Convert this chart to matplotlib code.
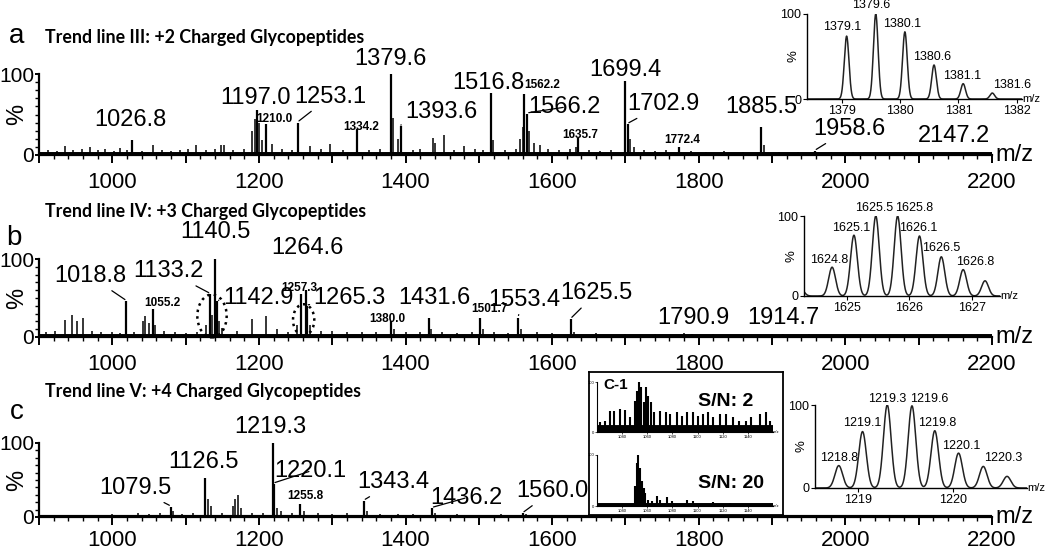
import numpy as np
import matplotlib.pyplot as plt
from matplotlib.patches import Ellipse
from matplotlib.ticker import MultipleLocator, FixedLocator, FuncFormatter

plt.rcParams['font.family'] = ['Liberation Sans', 'DejaVu Sans']

# ---------------- panel a : +2 charged ----------------
a_mz = [1026.8, 1197.0, 1210.0, 1253.1, 1334.2, 1379.6, 1393.6, 1516.8, 1562.2,
        1566.2, 1635.7, 1699.4, 1702.9, 1772.4, 1885.5, 1958.6, 2147.2]
a_int = [19, 55, 38, 40, 32, 100, 36, 76, 75, 51, 21, 91, 38, 10, 35, 5, 3]
a_minor_mz = [912, 925, 935, 947, 958, 970, 980, 990, 1002, 1011, 1020, 1040, 1056,
              1068, 1080, 1092, 1103, 1114, 1128, 1140, 1148, 1153, 1165, 1180, 1190,
              1194, 1200, 1204, 1218, 1232, 1245, 1269, 1285, 1297, 1315, 1350, 1365,
              1383, 1390, 1410, 1420, 1437, 1440, 1452, 1466, 1480, 1495, 1505, 1519,
              1535, 1550, 1556, 1560, 1568, 1575, 1583, 1595, 1610, 1625, 1632, 1650,
              1665, 1680, 1706, 1712, 1725, 1740, 1755, 1790, 1810, 1835, 1860, 1889,
              1910, 1935, 1980, 2010, 2050, 2090, 2120, 2170]
a_minor_int = [6, 5, 11, 6, 7, 10, 6, 8, 5, 9, 6, 5, 12, 6, 5, 6, 7, 12, 6, 7, 12, 12,
               6, 7, 30, 45, 40, 18, 14, 7, 6, 11, 7, 14, 6, 6, 7, 46, 20, 6, 8, 21,
               15, 25, 6, 11, 7, 6, 18, 6, 7, 20, 35, 30, 15, 12, 8, 6, 7, 10, 6, 5,
               6, 20, 10, 6, 5, 6, 5, 4, 5, 4, 12, 4, 4, 4, 4, 3, 4, 3, 3]
a_lab_x = [1025, 1196, 1221, 1297, 1339, 1379, 1449, 1513, 1587, 1617, 1638, 1700,
           1752, 1778, 1885, 2005, 2148]
a_lab_y = [43, 70, 44, 72, 34, 118, 53, 89, 86, 59, 25, 105, 63, 19, 59, 32, 23]
a_lab_big = [1, 1, 0, 1, 0, 1, 1, 1, 0, 1, 0, 1, 1, 0, 1, 1, 1]
a_lab_lead = [0, 0, 0, 1, 0, 0, 1, 0, 0, 1, 0, 0, 1, 0, 0, 1, 0]

# ---------------- panel b : +3 charged ----------------
b_mz = [1018.8, 1055.2, 1133.2, 1140.5, 1142.9, 1257.3, 1264.6, 1265.3, 1380.0,
        1431.6, 1501.7, 1553.4, 1625.5, 1790.9, 1914.7]
b_int = [46, 36, 55, 100, 46, 55, 60, 40, 21, 25, 25, 25, 23, 4, 4]
b_minor_mz = [910, 922, 935, 945, 952, 960, 972, 985, 1000, 1010, 1030, 1042, 1045,
              1050, 1058, 1070, 1085, 1100, 1115, 1128, 1136, 1145, 1150, 1170, 1190,
              1210, 1225, 1240, 1252, 1270, 1285, 1300, 1320, 1340, 1360, 1384, 1400,
              1420, 1435, 1450, 1470, 1490, 1505, 1520, 1540, 1557, 1580, 1600, 1630,
              1660, 1700, 1740, 1780, 1820, 1860, 1900, 1950, 2000, 2060, 2120, 2180]
b_minor_int = [6, 8, 22, 28, 20, 25, 8, 6, 7, 5, 6, 20, 27, 18, 15, 8, 6, 5, 7, 15, 28,
               20, 12, 8, 23, 27, 10, 7, 15, 15, 8, 8, 6, 6, 7, 10, 6, 6, 10, 6, 5, 6,
               10, 6, 5, 10, 6, 5, 6, 5, 4, 4, 5, 4, 4, 4, 4, 3, 3, 3, 3]
b_lab_x = [970, 1068, 1077, 1141, 1199, 1255, 1266, 1324, 1375, 1440, 1514, 1562,
           1660, 1792, 1915]
b_lab_y = [78, 44, 84, 135, 50, 63, 114, 50, 23, 50, 36, 48, 56, 24, 24]
b_lab_big = [1, 0, 1, 1, 1, 0, 1, 1, 0, 1, 0, 1, 1, 1, 1]
b_lab_lead = [1, 0, 1, 0, 1, 0, 0, 1, 0, 0, 0, 1, 1, 0, 0]

# ---------------- panel c : +4 charged ----------------
c_mz = [1079.5, 1126.5, 1219.3, 1220.1, 1255.8, 1343.4, 1436.2, 1560.0]
c_int = [14, 53, 100, 45, 18, 22, 12, 5]
c_minor_mz = [968, 985, 1000, 1020, 1035, 1050, 1065, 1083, 1095, 1110, 1130, 1134,
              1150, 1165, 1168, 1171, 1175, 1190, 1205, 1225, 1230, 1245, 1262, 1280,
              1300, 1320, 1347, 1365, 1390, 1410, 1440, 1470, 1500, 1530, 1565, 1600]
c_minor_int = [3, 3, 4, 3, 5, 4, 5, 8, 4, 5, 25, 15, 6, 15, 25, 30, 12, 6, 5, 12, 8, 5,
               8, 5, 4, 5, 8, 4, 4, 4, 5, 4, 3, 4, 4, 3]
c_lab_x = [1032, 1125, 1216, 1270, 1263, 1384, 1483, 1600]
c_lab_y = [39, 75, 121, 62, 29, 47, 26, 35]
c_lab_big = [1, 1, 1, 1, 0, 1, 1, 1]
c_lab_lead = [1, 0, 0, 1, 0, 1, 1, 1]

# ---------------- isotope insets ----------------
ia_mz = [1379.08, 1379.58, 1380.08, 1380.58, 1381.08, 1381.58]
ia_int = [74, 100, 79, 40, 18, 7]
ia_lab = ['1379.1', '1379.6', '1380.1', '1380.6', '1381.1', '1381.6']
ia_lab_x = [1379.0, 1379.51, 1380.03, 1380.54, 1381.07, 1381.92]
ia_lab_y = [85, 111, 88, 49, 27, 16]

ib_mz = [1624.25, 1624.76, 1625.11, 1625.46, 1625.81, 1626.16, 1626.51, 1626.86, 1627.21]
ib_int = [10, 36, 76, 100, 100, 75, 49, 33, 19]
ib_lab = ['1624.8', '1625.1', '1625.5', '1625.8', '1626.1', '1626.5', '1626.8']
ib_lab_x = [1624.71, 1625.06, 1625.43, 1626.07, 1626.14, 1626.50, 1627.06]
ib_lab_y = [45, 85, 110, 110, 85, 60, 42]

ic_mz = [1218.80, 1219.05, 1219.31, 1219.57, 1219.81, 1220.06, 1220.32, 1220.57]
ic_int = [27, 68, 100, 99, 69, 42, 26, 14]
ic_lab = ['1218.8', '1219.1', '1219.3', '1219.6', '1219.8', '1220.1', '1220.3']
ic_lab_x = [1218.80, 1219.05, 1219.31, 1219.75, 1219.84, 1220.09, 1220.53]
ic_lab_y = [36, 78, 107, 107, 78, 51, 36]

# ---------------- C-1 box (S/N comparison) ----------------
c1_top_mz = [1022.6, 1026.6, 1030.0, 1033.2, 1038.0, 1042.5, 1046.4, 1050.4, 1052.2,
             1053.8, 1055.1, 1057.0, 1058.8, 1060.9, 1062.8, 1065.4, 1070.2, 1074.9,
             1078.1, 1083.4, 1087.4, 1091.8, 1096.6, 1100.6, 1104.5, 1108.5, 1112.5,
             1117.7, 1123.0, 1128.3, 1133.1, 1138.9, 1142.8, 1149.4, 1154.7, 1157.9]
c1_top_int = [20, 23, 43, 43, 47, 45, 30, 63, 83, 100, 90, 60, 90, 73, 60, 40, 43, 40,
              37, 40, 33, 40, 40, 33, 37, 40, 30, 37, 37, 30, 23, 23, 30, 37, 40, 23]
c1_bot_mz = [1050.4, 1051.7, 1053.0, 1054.3, 1055.7, 1057.0, 1058.3, 1060.9, 1063.6,
             1067.5, 1070.2, 1075.5, 1079.4, 1091.3, 1096.6, 1112.5, 1125.7]
c1_bot_int = [40, 85, 100, 75, 50, 35, 25, 12, 10, 20, 12, 18, 10, 12, 10, 8, 5]
c1_ticks = [1040, 1060, 1080, 1100, 1120, 1140]

W, H = 1050, 552
fig = plt.figure(figsize=(W / 100, H / 100), dpi=100)


def px_axes(x0, y0, x1, y1):
    return fig.add_axes([x0 / W, 1 - y1 / H, (x1 - x0) / W, (y1 - y0) / H])


def hundreds(v, pos):
    return '%d' % v if int(round(v)) % 200 == 0 else ''


def main_panel(box, mz, inten, mmz, mint, lx, ly, big, lead, base_lw=5.0, xpad=6):
    ax = px_axes(*box)
    ax.axhline(0, color='k', lw=base_lw, zorder=1)
    ax.vlines(mmz, 0, mint, color='k', lw=1.1)
    ax.vlines(mz, 0, inten, color='k', lw=1.6)
    ax.set_xlim(900, 2200)
    ax.set_ylim(0, 100)
    ax.spines[['top', 'right']].set_visible(False)
    ax.spines[['left', 'bottom']].set_linewidth(1.6)
    ax.xaxis.set_major_locator(MultipleLocator(100))
    ax.xaxis.set_major_formatter(FuncFormatter(hundreds))
    ax.xaxis.set_minor_locator(MultipleLocator(20))
    ax.yaxis.set_major_locator(FixedLocator([0, 100]))
    ax.yaxis.set_minor_locator(MultipleLocator(10))
    ax.tick_params(axis='x', which='major', length=6, width=1.4, labelsize=16, pad=xpad)
    ax.tick_params(axis='y', which='major', length=3, width=1.4, labelsize=15, pad=0.5)
    ax.tick_params(which='minor', length=3, width=1.0)
    ax.set_ylabel('%', fontsize=17)
    ax.yaxis.set_label_coords(-0.011, 0.5)
    ax.text(1.004, 0, 'm/z', transform=ax.transAxes, fontsize=17, ha='left', va='center')
    for m, h, x, y, b, l in zip(mz, inten, lx, ly, big, lead):
        kw = dict(fontsize=17) if b else dict(fontsize=8.5, fontweight='bold')
        if l:
            ax.annotate('%.1f' % m, xy=(m, h + 1), xytext=(x, y), ha='center',
                        va='center', annotation_clip=False,
                        arrowprops=dict(arrowstyle='-', lw=0.9, shrinkA=1, shrinkB=1),
                        **kw)
        else:
            ax.text(x, y, '%.1f' % m, ha='center', va='center', clip_on=False, **kw)
    return ax


def iso_inset(box, xlim, ticks, mz, inten, sig, labs, lx, ly):
    ax = px_axes(*box)
    ax.patch.set_alpha(0)
    x = np.linspace(xlim[0], xlim[1], 1500)
    y = np.zeros_like(x)
    for m, h in zip(mz, inten):
        y += h * np.exp(-0.5 * ((x - m) / sig) ** 2)
    ax.plot(x, y, color='#222222', lw=1.1)
    ax.set_xlim(*xlim)
    ax.set_ylim(0, 100)
    ax.spines[['top', 'right']].set_visible(False)
    ax.spines[['left', 'bottom']].set_linewidth(1.0)
    ax.set_xticks(ticks, [str(t) for t in ticks])
    ax.set_yticks([0, 100])
    ax.tick_params(length=3, width=0.8, labelsize=9, pad=1)
    ax.set_ylabel('%', fontsize=9.5)
    ax.yaxis.set_label_coords(-0.035, 0.5)
    ax.text(1.0, 0, 'm/z', transform=ax.transAxes, fontsize=8, ha='left', va='center')
    for t, xx, yy in zip(labs, lx, ly):
        ax.text(xx, yy, t, fontsize=9, ha='center', va='center', clip_on=False)
    return ax


a = main_panel((39, 74, 992, 155), a_mz, a_int, a_minor_mz, a_minor_int,
               a_lab_x, a_lab_y, a_lab_big, a_lab_lead)
b = main_panel((39, 259, 992, 337), b_mz, b_int, b_minor_mz, b_minor_int,
               b_lab_x, b_lab_y, b_lab_big, b_lab_lead)
c = main_panel((39, 443, 992, 517), c_mz, c_int, c_minor_mz, c_minor_int,
               c_lab_x, c_lab_y, c_lab_big, c_lab_lead, base_lw=3.0, xpad=3)

b.add_patch(Ellipse((1136, 27), 40, 55, fill=False, ls=':', lw=1.8, clip_on=False))
b.add_patch(Ellipse((1261, 22), 29, 40, fill=False, ls=':', lw=1.8, clip_on=False))

iso_inset((807, 14, 1022, 99), (1378.40, 1382.09), [1379, 1380, 1381, 1382],
          ia_mz, ia_int, 0.04, ia_lab, ia_lab_x, ia_lab_y)
iso_inset((804, 216, 1000, 296), (1624.31, 1627.45), [1625, 1626, 1627],
          ib_mz, ib_int, 0.055, ib_lab, ib_lab_x, ib_lab_y)
iso_inset((815, 405, 1027, 488), (1218.55, 1220.78), [1219, 1220],
          ic_mz, ic_int, 0.04, ic_lab, ic_lab_x, ic_lab_y)

# C-1 box
box = px_axes(589, 372, 783, 515)
box.set_xticks([])
box.set_yticks([])
for s in box.spines.values():
    s.set_linewidth(1.3)
for sub, smz, sint, lw_base in ((px_axes(597, 382, 773, 432), c1_top_mz, c1_top_int, 10),
                                (px_axes(597, 455, 773, 506), c1_bot_mz, c1_bot_int, 5)):
    sub.patch.set_alpha(0)
    sub.axhline(0, color='k', lw=lw_base)
    sub.vlines(smz, 0, sint, color='k', lw=1.5)
    sub.set_xlim(1020, 1160)
    sub.set_ylim(0, 100)
    sub.spines[['top', 'right']].set_visible(False)
    sub.spines[['left', 'bottom']].set_linewidth(0.8)
    sub.set_xticks(c1_ticks)
    sub.set_yticks([0, 100])
    sub.tick_params(length=1.5, width=0.5, labelsize=3, pad=0.5)
    sub.text(1.0, 0, 'm/z', transform=sub.transAxes, fontsize=3, ha='left', va='center')
fig.text(603 / W, 1 - 385 / H, 'C-1', fontsize=11, fontweight='bold', va='center')
fig.text(698 / W, 1 - 402 / H, 'S/N: 2', fontsize=14, fontweight='bold', va='center')
fig.text(698 / W, 1 - 483 / H, 'S/N: 20', fontsize=14, fontweight='bold', va='center')

# titles and panel letters
titles = ['Trend line III: +2 Charged Glycopeptides',
          'Trend line IV: +3 Charged Glycopeptides',
          'Trend line V: +4 Charged Glycopeptides']
for t, yy in zip(titles, (37, 211, 392)):
    fig.text(45 / W, 1 - yy / H, t, fontsize=12.8, fontweight='bold', va='center',
             family=['Lato', 'DejaVu Sans'])
for t, xx, yy in zip('abc', (17, 14, 17), (36, 238, 412)):
    fig.text(xx / W, 1 - yy / H, t, fontsize=20, ha='center', va='center')

plt.savefig('out.png', dpi=100)
